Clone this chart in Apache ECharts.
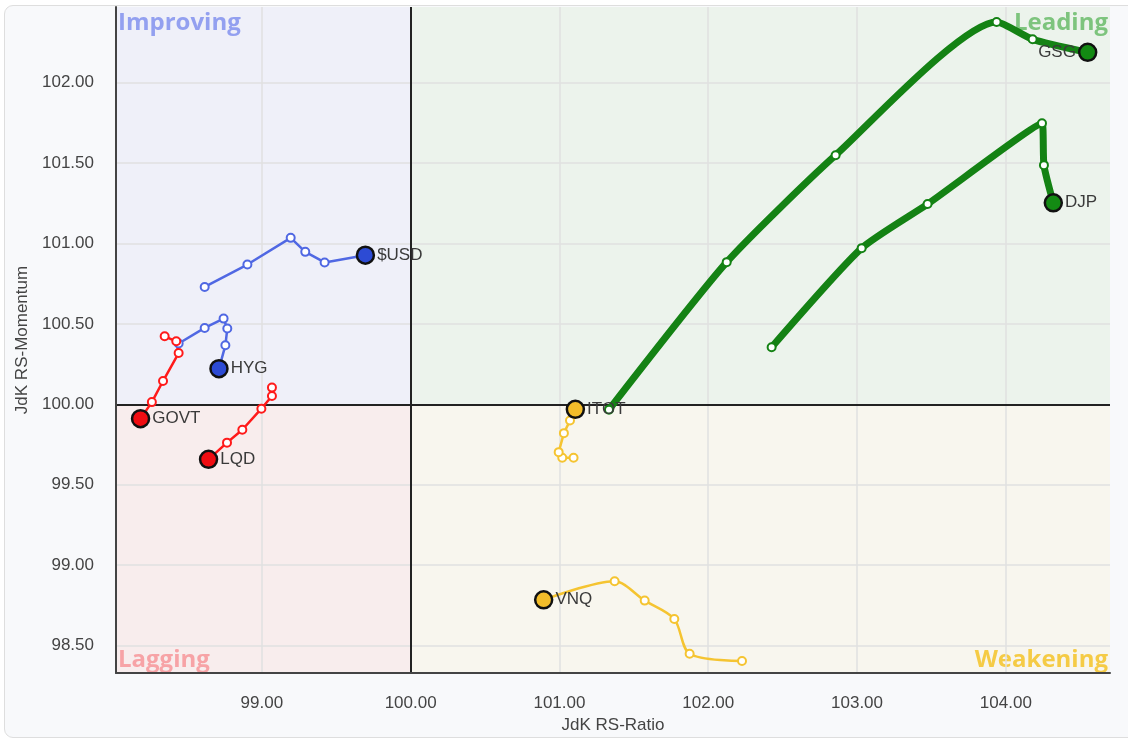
<!DOCTYPE html>
<html><head><meta charset="utf-8">
<script src="https://cdn.jsdelivr.net/npm/echarts@6/dist/echarts.min.js"></script>
<style>
html,body{margin:0;padding:0;background:#fff;}
#panel{position:absolute;left:4px;top:5px;width:1150px;height:731px;border:1px solid #dedede;border-radius:9px;background:#f8f9fb;}
#c{position:absolute;left:0;top:0;width:1128px;height:738px;}
</style>
</head><body><div id="panel"></div><div id="c"></div>
<script>
// Axis ranges and tick labels
const xRange = [98.02, 104.70];
const yRange = [98.33, 102.47];
const xTicks = [99, 100, 101, 102, 103, 104];
const yTicks = [98.5, 99, 99.5, 100, 100.5, 101, 101.5, 102];

// Tails [RS-Ratio, RS-Momentum], oldest first, head last
const usd  = [[98.616,100.730],[98.903,100.869],[99.194,101.035],[99.292,100.948],[99.422,100.882],[99.696,100.927]];
const hyg  = [[98.441,100.378],[98.616,100.475],[98.743,100.533],[98.768,100.471],[98.755,100.367],[98.712,100.222]];
const govt = [[98.347,100.423],[98.425,100.392],[98.441,100.319],[98.336,100.145],[98.261,100.014],[98.185,99.911]];
const lqd  = [[99.068,100.104],[99.068,100.052],[98.997,99.973],[98.869,99.842],[98.766,99.762],[98.642,99.658]];
const itot = [[101.095,99.668],[101.019,99.668],[100.995,99.703],[101.030,99.821],[101.071,99.900],[101.107,99.969]];
const vnq  = [[102.227,98.405],[101.875,98.450],[101.772,98.666],[101.573,98.780],[101.371,98.900],[100.894,98.785]];
const gsg  = [[101.333,99.967],[102.124,100.884],[102.856,101.549],[103.938,102.377],[104.180,102.269],[104.550,102.188]];
const djp  = [[102.426,100.355],[103.031,100.971],[103.474,101.245],[104.243,101.747],[104.256,101.487],[104.319,101.253]];

const FONT = 'Liberation Sans, Arial, sans-serif';

function tail(name, pts, color, headColor, width, smooth, labelPos) {
  const data = pts.map((p, i) => i === pts.length - 1 ? {
    value: p, symbolSize: 17,
    itemStyle: {color: headColor, borderColor: '#111', borderWidth: 2.5},
    label: {show: true, formatter: name, position: labelPos, distance: 2, color: '#3a3a3a', fontSize: 17, fontFamily: FONT}
  } : {value: p});
  return {
    type: 'line', name: name, data: data, smooth: smooth, symbol: 'circle', symbolSize: 8,
    showAllSymbol: true, lineStyle: {color: color, width: width},
    itemStyle: {color: '#fff', borderColor: color, borderWidth: 2},
    z: 5, animation: false, silent: true
  };
}

const quadLabel = (text, color, pos, off) => ({
  show: true, formatter: text, position: pos, color: color, fontSize: 24,
  fontWeight: 'bold', fontFamily: 'Open Sans, sans-serif', distance: 2, offset: off
});

const chart = echarts.init(document.getElementById('c'), null, {renderer: 'canvas'});
chart.setOption({
  backgroundColor: 'transparent',
  animation: false,
  grid: {left: 116, right: 18, top: 7, bottom: 65, containLabel: false, outerBoundsMode: 'none'},
  xAxis: {
    type: 'value', min: xRange[0], max: xRange[1], z: 10,
    axisLine: {show: true, onZero: false, lineStyle: {color: '#444', width: 2}},
    axisTick: {show: false}, splitLine: {show: false},
    axisLabel: {customValues: xTicks, formatter: v => v.toFixed(2), fontSize: 17, color: '#444', margin: 22, fontFamily: FONT},
    name: 'JdK RS-Ratio', nameLocation: 'middle', nameGap: 40,
    nameTextStyle: {fontSize: 17, color: '#444', fontFamily: FONT}
  },
  yAxis: {
    type: 'value', min: yRange[0], max: yRange[1], z: 10,
    axisLine: {show: true, onZero: false, lineStyle: {color: '#444', width: 2}},
    axisTick: {show: false}, splitLine: {show: false},
    axisLabel: {customValues: yTicks, formatter: v => v.toFixed(2), fontSize: 17, color: '#444', margin: 22, fontFamily: FONT},
    name: 'JdK RS-Momentum', nameLocation: 'middle', nameGap: 73,
    nameTextStyle: {fontSize: 17, color: '#444', fontFamily: FONT}
  },
  series: [
    {
      type: 'line', data: [], z: 1, silent: true,
      markArea: {
        silent: true,
        data: [
          [{xAxis: xRange[0], yAxis: 100, itemStyle: {color: '#eff0f9'}, label: quadLabel('Improving', '#93a0f0', 'insideTopLeft', [0, 2])}, {xAxis: 100, yAxis: yRange[1]}],
          [{xAxis: 100, yAxis: 100, itemStyle: {color: '#ecf3ec'}, label: quadLabel('Leading', '#7dc47d', 'insideTopRight', [0, 2])}, {xAxis: xRange[1], yAxis: yRange[1]}],
          [{xAxis: xRange[0], yAxis: yRange[0], itemStyle: {color: '#f8eded'}, label: quadLabel('Lagging', '#f7a3a6', 'insideBottomLeft', [0, 1])}, {xAxis: 100, yAxis: 100}],
          [{xAxis: 100, yAxis: yRange[0], itemStyle: {color: '#f8f6ee'}, label: quadLabel('Weakening', '#f5cb45', 'insideBottomRight', [0, 1])}, {xAxis: xRange[1], yAxis: 100}]
        ]
      }
    },
    {
      type: 'line', data: [], z: 2, silent: true,
      markLine: {
        silent: true, symbol: 'none', label: {show: false},
        lineStyle: {color: '#e0e0e0', width: 1.5, type: 'solid'},
        data: xTicks.filter(v => v !== 100).map(v => ({xAxis: v}))
          .concat(yTicks.filter(v => v !== 100).map(v => ({yAxis: v})))
      }
    },
    {
      type: 'line', data: [], z: 3, silent: true,
      markLine: {
        silent: true, symbol: 'none', label: {show: false},
        lineStyle: {color: '#222', width: 2, type: 'solid'},
        data: [{xAxis: 100}, {yAxis: 100}]
      }
    },
    tail('$USD', usd, '#5068e3', '#2d4bd4', 2.5, false, 'right'),
    tail('HYG', hyg, '#5068e3', '#2d4bd4', 2.5, false, 'right'),
    tail('GOVT', govt, '#ff1a1a', '#f00d12', 2.5, false, 'right'),
    tail('LQD', lqd, '#ff1a1a', '#f00d12', 2.5, false, 'right'),
    tail('ITOT', itot, '#f5c431', '#f3bd2a', 2.5, false, 'right'),
    tail('VNQ', vnq, '#f5c431', '#f3bd2a', 2.5, 0.3, 'right'),
    tail('GSG', gsg, '#148214', '#138a13', 7, 0.2, 'left'),
    tail('DJP', djp, '#148214', '#138a13', 7, 0.2, 'right')
  ]
});
</script>
</body></html>
